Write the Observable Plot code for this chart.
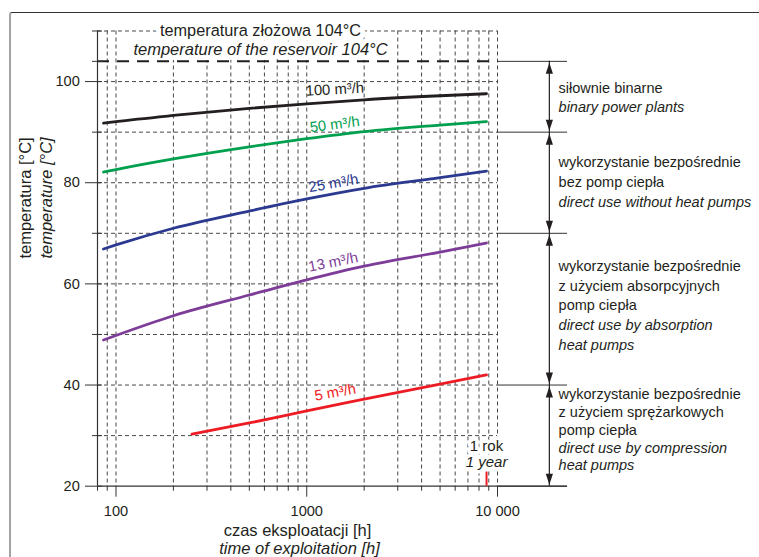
<!DOCTYPE html>
<html><head><meta charset="utf-8">
<script src="https://cdn.jsdelivr.net/npm/d3@7"></script>
<script src="https://cdn.jsdelivr.net/npm/@observablehq/plot@0.6"></script>
<style>
html,body{margin:0;padding:0;background:#fff;}
#wrap{position:relative;width:759px;height:557px;overflow:hidden;}
#frame{position:absolute;left:9px;top:12px;width:760px;height:560px;border-left:2px solid #a3a3a3;border-top:1.5px solid #333;border-top-left-radius:3px;pointer-events:none;}
</style></head><body><div id="wrap"><div id="chart"></div><div id="frame"></div></div>
<script>
// ---- data ----
const hours = [86, 100, 200, 500, 1000, 2000, 5000, 8760];
const flow100 = [91.8, 92.1, 93.3, 94.7, 95.6, 96.4, 97.2, 97.6];
const flow50 = [82.1, 82.6, 84.7, 87.1, 88.7, 90.1, 91.4, 92.1];
const flow25 = [66.9, 67.7, 71.0, 74.4, 76.8, 78.9, 81.0, 82.3];
const flow13 = [48.9, 49.8, 53.7, 57.8, 60.8, 63.5, 66.3, 68.1];
const hours5 = [250, 500, 1000, 2000, 5000, 8760];
const flow5 = [30.3, 32.5, 34.9, 37.2, 40.2, 42.0];

const seriesNames = ["100 m³/h", "50 m³/h", "25 m³/h", "13 m³/h", "5 m³/h"];
const seriesColors = ["#231f20", "#00a04f", "#2b3990", "#7d3c98", "#ed1c24"];
const labelX = [990, 1045, 1035, 1035, 1110];
const labelY = [97.2, 90.0, 78.1, 62.4, 36.9];
const labelAngle = [-3, -7, -10, -11.5, -10];

const xMajor = [100, 1000, 10000];
const xMinor = [80, 90, 200, 300, 400, 500, 600, 700, 800, 900, 2000, 3000, 4000, 5000, 6000, 7000, 8000, 9000];
const xGrid = [90, 100, 200, 300, 400, 500, 600, 700, 800, 900, 1000, 2000, 3000, 4000, 5000, 6000, 7000, 8000, 9000, 10000];
const yMajor = [20, 40, 60, 80, 100];
const yMinor = [30, 50, 70, 90, 104, 110];
const yGrid = [30, 40, 50, 60, 70, 80, 90, 100, 110];

const reservoirTemp = 104;
const titlePl = "temperatura złożowa 104°C";
const titleEn = "temperature of the reservoir 104°C";
const bandEdges = [104, 90, 70, 40, 20];
const bandLabelY = [96.8, 80.06, 55.7, 31.1];
const bandLineHeight = [19, 20, 19.7, 17.9];
const bandLines = [
  [["siłownie binarne", false], ["binary power plants", true]],
  [["wykorzystanie bezpośrednie", false], ["bez pomp ciepła", false], ["direct use without heat pumps", true]],
  [["wykorzystanie bezpośrednie", false], ["z użyciem absorpcyjnych", false], ["pomp ciepła", false], ["direct use by absorption", true], ["heat pumps", true]],
  [["wykorzystanie bezpośrednie", false], ["z użyciem sprężarkowych", false], ["pomp ciepła", false], ["direct use by compression", true], ["heat pumps", true]]
];
const oneYear = 8760;
const yearLabels = [["1 rok", false, 26.9], ["1 year", true, 23.8]];
const xArrow = 18700, xBandText = 20900, xExt = 23300;

// ---- build ----
const ink = "#231f20";
const font = "'Liberation Sans', Arial, Helvetica, sans-serif";
const curves = [
  [hours, flow100], [hours, flow50], [hours, flow25], [hours, flow13], [hours5, flow5]
].map(([xs, ys], i) => xs.map((x, j) => ({x, y: ys[j], name: seriesNames[i]})));

const bands = bandEdges.slice(0, -1).map((top, i) => ({top, bottom: bandEdges[i + 1]}));
const upHead = {draw(c) { c.moveTo(0, 1.5); c.lineTo(3.6, 12.5); c.lineTo(-3.6, 12.5); c.closePath(); }};
const downHead = {draw(c) { c.moveTo(0, -1.5); c.lineTo(3.6, -12.5); c.lineTo(-3.6, -12.5); c.closePath(); }};

const marks = [];
// grid
marks.push(Plot.ruleX(xGrid, {stroke: "#333", strokeWidth: 0.9, strokeDasharray: "4,3"}));
marks.push(Plot.ruleY(yGrid, {stroke: "#333", strokeWidth: 0.9, strokeDasharray: "4,3"}));
// title with halo
marks.push(Plot.text([titlePl], {frameAnchor: "top", dx: -37, dy: 4.5, lineAnchor: "bottom", fontSize: 16.3, fill: ink, stroke: "white", strokeWidth: 10, paintOrder: "stroke"}));
marks.push(Plot.text([titleEn], {frameAnchor: "top", dx: -37, dy: 23.5, lineAnchor: "bottom", fontSize: 16.5, fontStyle: "italic", fill: ink, stroke: "white", strokeWidth: 10, paintOrder: "stroke"}));
// reservoir line
marks.push(Plot.ruleY([reservoirTemp], {stroke: ink, strokeWidth: 2, strokeDasharray: "12,8"}));
// extensions
marks.push(Plot.ruleY(bandEdges, {x1: () => 10000, x2: () => xExt, stroke: "#333", strokeWidth: 1}));
marks.push(Plot.ruleY([20], {x1: () => 80, x2: () => xExt, stroke: "#333", strokeWidth: 1.2}));
marks.push(Plot.ruleX([80], {stroke: "#333", strokeWidth: 1.2}));
// year label
yearLabels.forEach(([t, it, y]) => marks.push(Plot.text([t], {x: () => oneYear, y: () => y, lineAnchor: "bottom", fontSize: 15, fontStyle: it ? "italic" : "normal", fill: ink, stroke: "white", strokeWidth: 7, paintOrder: "stroke"})));
marks.push(Plot.ruleX([oneYear], {y1: () => 20, y2: () => 22.8, stroke: "#ed1c24", strokeWidth: 2}));
// curves
curves.forEach((rows, i) => marks.push(Plot.line(rows, {x: "x", y: "y", stroke: seriesColors[i], strokeWidth: 2.8, curve: "monotone-x"})));
seriesNames.forEach((n, i) => marks.push(Plot.text([n], {x: () => labelX[i], y: () => labelY[i], textAnchor: "start", lineAnchor: "bottom", rotate: labelAngle[i], fontSize: 14.8, fill: seriesColors[i]})));
// band arrows
marks.push(Plot.ruleX([xArrow], {y1: () => 20, y2: () => 104, stroke: ink, strokeWidth: 1.2}));
marks.push(Plot.dot(bands, {x: () => xArrow, y: "top", symbol: upHead, fill: ink, r: 4}));
marks.push(Plot.dot(bands, {x: () => xArrow, y: "bottom", symbol: downHead, fill: ink, r: 4}));
bandLines.forEach((lines, b) => {
  const n = lines.length;
  lines.forEach(([t, it], i) => marks.push(Plot.text([t], {x: () => xBandText, y: () => bandLabelY[b], dy: (i - (n - 1) / 2) * bandLineHeight[b], textAnchor: "start", lineAnchor: "middle", fontSize: 14.5, fontStyle: it ? "italic" : "normal", fill: ink})));
});
// axes
marks.push(Plot.axisY({ticks: yMajor, tickSize: 17, dx: 5, tickFormat: () => "", label: null, stroke: "#333"}));
marks.push(Plot.axisY({ticks: yMinor, tickSize: 10, dx: 5, tickFormat: () => "", label: null, stroke: "#333"}));
marks.push(Plot.axisY({ticks: yMajor, tickSize: 0, tickPadding: 17.7, label: null, fontSize: 14.6, fill: ink}));
marks.push(Plot.axisX({ticks: xMajor, tickSize: 11, tickPadding: 8.6, label: null, fontSize: 14.6, fill: ink, stroke: "#333", tickFormat: d => d === 10000 ? "10 000" : String(d)}));
marks.push(Plot.axisX({ticks: xMinor, tickSize: 5, label: null, stroke: "#333", tickFormat: () => ""}));
// axis titles
marks.push(Plot.text(["temperatura [°C]"], {frameAnchor: "left", y: () => 65, dx: -67, rotate: -90, lineAnchor: "bottom", fontSize: 16.5, fill: ink}));
marks.push(Plot.text(["temperature [°C]"], {frameAnchor: "left", y: () => 65, dx: -45.5, rotate: -90, lineAnchor: "bottom", fontSize: 16.5, fontStyle: "italic", fill: ink}));
marks.push(Plot.text(["czas eksploatacji [h]"], {frameAnchor: "bottom", dy: 49.3, lineAnchor: "bottom", fontSize: 16.5, fill: ink}));
marks.push(Plot.text(["time of exploitation [h]"], {frameAnchor: "bottom", dx: 2, dy: 67.3, lineAnchor: "bottom", fontSize: 16.5, fontStyle: "italic", fill: ink}));

const chart = Plot.plot({
  width: 759, height: 557,
  marginLeft: 97, marginRight: 262, marginTop: 30.5, marginBottom: 71.3,
  x: {type: "log", domain: [80, 10000]},
  y: {domain: [20, 110]},
  style: {fontFamily: font, background: "transparent", color: ink, overflow: "visible"},
  marks
});
document.getElementById("chart").appendChild(chart);
</script></body></html>
